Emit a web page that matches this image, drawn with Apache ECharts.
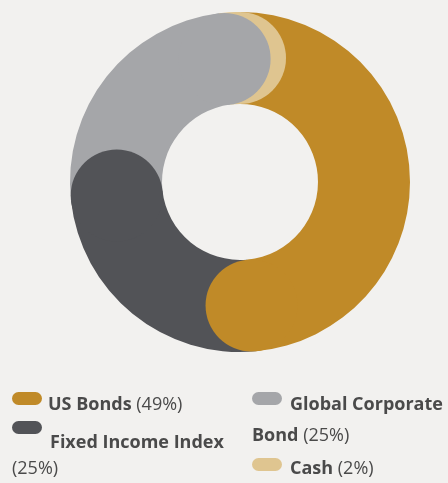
<!DOCTYPE html>
<html>
<head>
<meta charset="utf-8">
<script src="https://cdn.jsdelivr.net/npm/echarts@6/dist/echarts.min.js"></script>
<style>
html,body{margin:0;padding:0;background:#f2f1ef;}
#c{width:448px;height:483px;}
</style>
</head>
<body>
<div id="c"></div>
<script>
// ---- data ----
var names = ['US Bonds', 'Fixed Income Index', 'Global Corporate Bond', 'Cash'];
var values = [49, 25, 25, 2];
var colors = ['#c08a28', '#525357', '#a5a6a9', '#dfc590'];

var total = values.reduce(function (a, b) { return a + b; }, 0);
var cum = [];
values.reduce(function (a, v, i) { cum[i] = a + v; return a + v; }, 0);

var CX = 240, CY = 182, R0 = 78, R1 = 170;
var font = '"Open Sans", sans-serif';
var txt = '#4a4a4a';
var FS = 18;

// caps: drawn in order cash, US Bonds, Fixed Income, Global
var capOrder = [3, 0, 1, 2];
var capSeries = capOrder.map(function (i) {
  return {
    type: 'scatter', coordinateSystem: 'polar', silent: true, z: 3,
    symbol: 'circle', symbolSize: R1 - R0,
    itemStyle: { color: colors[i], opacity: 1 },
    data: [[0.5, cum[i]]]
  };
});

// legend graphics
function pct(i) { return '(' + values[i] + '%)'; }
var g = [];
function icon(x, y, c) {
  g.push({ type: 'rect', left: x, top: y, shape: { width: 30, height: 13, r: 6.5 }, style: { fill: c } });
}
function label(x, y, rich) {
  g.push({ type: 'text', x: x, y: y, style: {
    text: rich, fill: txt, font: '700 ' + FS + 'px ' + font, verticalAlign: 'middle',
    rich: {
      b: { fontFamily: font, fontWeight: 700, fontSize: FS, fill: txt },
      n: { fontFamily: font, fontWeight: 400, fontSize: FS, fill: txt }
    }
  }});
}
icon(12, 392, colors[0]);
label(48, 405, '{b|' + names[0] + '} {n|' + pct(0) + '}');
icon(12, 421, colors[1]);
label(50, 443, '{b|' + names[1] + '}');
label(12, 469, '{n|' + pct(1) + '}');
icon(252, 392, colors[2]);
label(290, 405, '{b|Global Corporate}');
label(252, 436, '{b|Bond} {n|' + pct(2) + '}');
icon(252, 458, colors[3]);
label(290, 469, '{b|' + names[3] + '} {n|' + pct(3) + '}');

var chart = echarts.init(document.getElementById('c'));
chart.setOption({
  backgroundColor: '#f2f1ef',
  animation: false,
  polar: { center: [CX, CY], radius: [R0, R1] },
  radiusAxis: { type: 'value', min: 0, max: 1, show: false },
  angleAxis: { type: 'value', min: 0, max: total, startAngle: 90, clockwise: true, show: false },
  series: [{
    type: 'pie', silent: true, z: 2,
    center: [CX, CY], radius: [R0, R1],
    startAngle: 90, clockwise: true,
    label: { show: false }, labelLine: { show: false },
    itemStyle: { borderWidth: 0 },
    data: names.map(function (n, i) { return { name: n, value: values[i], itemStyle: { color: colors[i] } }; })
  }].concat(capSeries),
  graphic: g
});
</script>
</body>
</html>
